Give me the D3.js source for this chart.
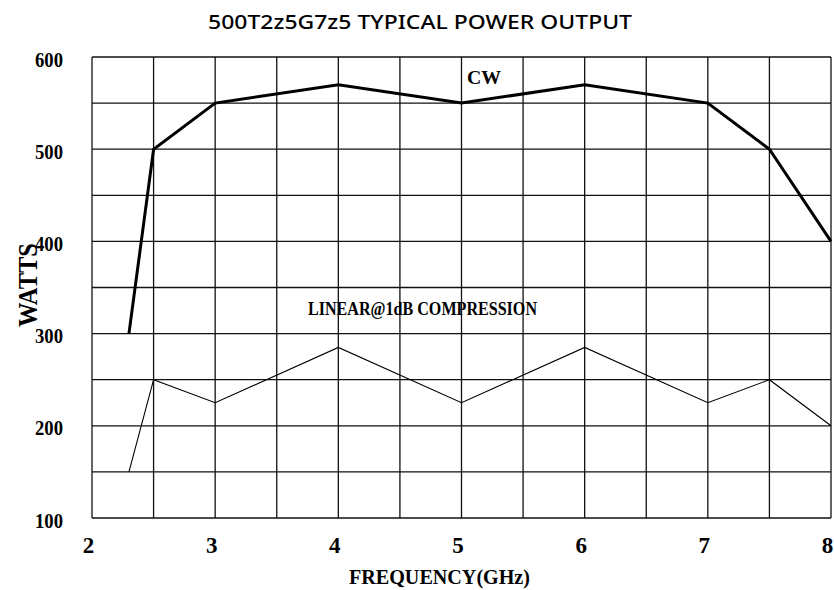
<!DOCTYPE html>
<html>
<head>
<meta charset="utf-8" />
<title></title>
<style>
html, body {
    padding: 0px;
    margin: 0px;
    background: #fff;
}
svg text {
    fill: #000;
}
</style>
</head>
<body>
<div id="chart"></div>
<script src="https://cdnjs.cloudflare.com/ajax/libs/d3/7.8.5/d3.min.js"></script>
<script>
// data
var freq = [2.3, 2.5, 3, 4, 5, 6, 7, 7.5, 8];
var cwWatts = [300, 500, 550, 570, 550, 570, 550, 500, 400];
var linearWatts = [150, 250, 225, 285, 225, 285, 225, 250, 200];
var xTicks = [2, 3, 4, 5, 6, 7, 8];
var yTicks = [100, 200, 300, 400, 500, 600];
var xGrid = d3.range(2, 8.01, 0.5);
var yGrid = d3.range(100, 601, 50);

!(function(){
    "use strict"

    var W = 834, H = 590;
    var L = 92, R = 831, T = 57, B = 518;

    var svg = d3.select("#chart").append("svg")
        .attr("width", W)
        .attr("height", H);

    var x = d3.scaleLinear().domain([2, 8]).range([L, R]);
    var y = d3.scaleLinear().domain([100, 600]).range([B, T]);

    // title
    svg.append("text")
        .attr("x", 208)
        .attr("y", 29)
        .attr("textLength", 424)
        .attr("lengthAdjust", "spacingAndGlyphs")
        .style("font-family", "'Noto Sans', sans-serif")
        .style("font-weight", 500)
        .style("font-size", "20px")
        .text("500T2z5G7z5 TYPICAL POWER OUTPUT");

    // grid
    svg.append("g").selectAll("line")
        .data(xGrid)
        .enter().append("line")
        .attr("x1", function(d){ return x(d) }).attr("x2", function(d){ return x(d) })
        .attr("y1", T).attr("y2", B)
        .attr("stroke", "#111").attr("stroke-width", 1.3);

    svg.append("g").selectAll("line")
        .data(yGrid)
        .enter().append("line")
        .attr("x1", L).attr("x2", R)
        .attr("y1", function(d){ return y(d) }).attr("y2", function(d){ return y(d) })
        .attr("stroke", "#111").attr("stroke-width", 1.3);

    // axes (labels only, grid draws the lines)
    var serif = "'Liberation Serif', 'Times New Roman', serif";

    var xAxis = svg.append("g")
        .attr("transform", "translate(-4," + B + ")")
        .call(d3.axisBottom(x).tickValues(xTicks).tickSize(0).tickPadding(19).tickFormat(d3.format("d")));
    xAxis.select(".domain").remove();
    xAxis.selectAll("text")
        .attr("fill", "#000")
        .style("font-family", serif)
        .style("font-weight", "bold")
        .style("font-size", "23px");

    var yAxis = svg.append("g")
        .attr("transform", "translate(63,0)")
        .call(d3.axisLeft(y).tickValues(yTicks).tickSize(0).tickPadding(0).tickFormat(d3.format("d")));
    yAxis.select(".domain").remove();
    yAxis.selectAll("text")
        .attr("fill", "#000")
        .attr("dy", "9")
        .attr("textLength", 28)
        .attr("lengthAdjust", "spacingAndGlyphs")
        .style("font-family", serif)
        .style("font-weight", "bold")
        .style("font-size", "22px");

    // axis titles
    svg.append("text")
        .attr("transform", "translate(37,285) rotate(-90)")
        .attr("text-anchor", "middle")
        .attr("textLength", 84)
        .attr("lengthAdjust", "spacingAndGlyphs")
        .style("font-family", serif)
        .style("font-weight", "bold")
        .style("font-size", "28px")
        .text("WATTS");

    svg.append("text")
        .attr("x", 349)
        .attr("y", 584)
        .attr("textLength", 181)
        .attr("lengthAdjust", "spacingAndGlyphs")
        .style("font-family", serif)
        .style("font-weight", "bold")
        .style("font-size", "21px")
        .text("FREQUENCY(GHz)");

    // series
    var line = d3.line()
        .x(function(d){ return x(d[0]) })
        .y(function(d){ return y(d[1]) });

    svg.append("path")
        .datum(d3.zip(freq, cwWatts))
        .attr("d", line)
        .attr("fill", "none")
        .attr("stroke", "#000")
        .attr("stroke-width", 3);

    svg.append("path")
        .datum(d3.zip(freq, linearWatts))
        .attr("d", line)
        .attr("fill", "none")
        .attr("stroke", "#000")
        .attr("stroke-width", 1.1);

    // series labels
    svg.append("text")
        .attr("x", 467)
        .attr("y", 84)
        .attr("textLength", 34)
        .attr("lengthAdjust", "spacingAndGlyphs")
        .style("font-family", serif)
        .style("font-weight", "bold")
        .style("font-size", "18px")
        .text("CW");

    svg.append("text")
        .attr("x", 308)
        .attr("y", 315)
        .attr("textLength", 229)
        .attr("lengthAdjust", "spacingAndGlyphs")
        .style("font-family", serif)
        .style("font-weight", "bold")
        .style("font-size", "19px")
        .text("LINEAR@1dB COMPRESSION");

}());
</script>
</body>
</html>
